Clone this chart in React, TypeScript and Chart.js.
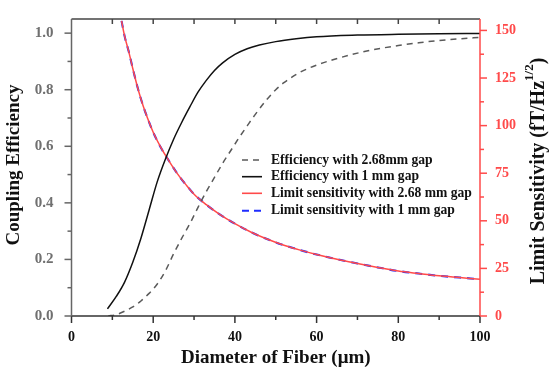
import React, { useEffect, useRef } from "react";
import { Chart, registerables } from "chart.js";

Chart.register(...registerables);

const effDashX = [9, 11, 13, 15, 17, 19, 21, 23, 25, 27, 29, 31, 33, 35, 37, 39, 41, 43, 45, 47.8, 50, 52, 56, 60, 64, 68, 72, 76, 80, 85, 90, 95, 100];
const effDashY = [0.0, 0.005, 0.017, 0.032, 0.053, 0.08, 0.113, 0.16, 0.22, 0.275, 0.327, 0.385, 0.44, 0.49, 0.54, 0.585, 0.63, 0.672, 0.713, 0.765, 0.8, 0.825, 0.862, 0.887, 0.906, 0.922, 0.936, 0.947, 0.956, 0.966, 0.974, 0.98, 0.985];

const effSolidX = [8.8, 11, 13, 15, 17, 19, 21, 23, 25, 27, 29, 31, 33, 35, 37, 40, 43, 46, 50, 55, 60, 70, 80, 90, 100];
const effSolidY = [0.025, 0.07, 0.12, 0.19, 0.275, 0.375, 0.475, 0.555, 0.625, 0.685, 0.74, 0.792, 0.833, 0.868, 0.895, 0.925, 0.945, 0.958, 0.97, 0.98, 0.987, 0.993, 0.996, 0.998, 0.999];

const sensX = [12.25, 13, 14, 15, 16, 17, 18, 20, 22, 24, 26, 28, 30, 33, 36, 40, 44, 48, 52, 56, 60, 65, 70, 75, 80, 85, 90, 95, 100];
const sensRed = [155, 147, 139, 130, 121.5, 114, 107.5, 96.5, 88, 81, 74.5, 69, 64, 58.5, 53.8, 48.5, 44, 40.3, 37.2, 34.6, 32.3, 29.8, 27.6, 25.5, 23.6, 22.3, 21.1, 20.2, 19.3];
const sensBlue = [155, 147, 139, 130, 121.5, 114, 107.5, 96.5, 88, 81, 74.5, 69, 64, 58.5, 53.8, 48.5, 44, 40.3, 37.2, 34.6, 32.3, 29.8, 27.6, 25.5, 23.6, 22.3, 21.1, 20.2, 19.3];

const legendLabels = [
  "Efficiency with 2.68mm gap",
  "Efficiency with 1 mm gap",
  "Limit sensitivity with 2.68 mm gap",
  "Limit sensitivity with 1 mm gap",
];

const xTicks = [0, 20, 40, 60, 80, 100];
const yTicks = [0, 0.2, 0.4, 0.6, 0.8, 1.0];
const y1Ticks = [0, 25, 50, 75, 100, 125, 150];

const FONT = "'Liberation Serif', 'DejaVu Serif', serif";
const RED = "#ff4a4a";
const BLUE = "#1f2dff";
const GRAY = "#5a5a5a";

const pts = (xs: number[], ys: number[]) => xs.map((x, i) => ({ x, y: ys[i] }));

const axesPlugin = {
  id: "customAxes",
  afterDraw(chart: any) {
    const { ctx, chartArea, scales } = chart;
    const { left, right, top, bottom } = chartArea;
    const x = scales.x, y = scales.y, y1 = scales.y1;
    ctx.save();
    ctx.lineWidth = 1.5;
    // top border
    ctx.strokeStyle = "#444";
    ctx.beginPath(); ctx.moveTo(left, top); ctx.lineTo(right, top); ctx.stroke();
    for (let v = 10; v < 100; v += 10) {
      const px = x.getPixelForValue(v);
      ctx.beginPath(); ctx.moveTo(px, top); ctx.lineTo(px, top + 5); ctx.stroke();
    }
    // bottom axis
    ctx.strokeStyle = "#333";
    ctx.beginPath(); ctx.moveTo(left, bottom); ctx.lineTo(right, bottom); ctx.stroke();
    for (let v = 0; v <= 100; v += 10) {
      const px = x.getPixelForValue(v);
      const len = v % 20 === 0 ? 7 : 4;
      ctx.beginPath(); ctx.moveTo(px, bottom); ctx.lineTo(px, bottom + len); ctx.stroke();
    }
    // left axis
    ctx.strokeStyle = "#666";
    ctx.beginPath(); ctx.moveTo(left, top); ctx.lineTo(left, bottom); ctx.stroke();
    for (let i = 0; i <= 10; i++) {
      const v = i / 10;
      const py = y.getPixelForValue(v);
      const len = i % 2 === 0 ? 7 : 4;
      ctx.beginPath(); ctx.moveTo(left, py); ctx.lineTo(left - len, py); ctx.stroke();
    }
    // right axis
    ctx.strokeStyle = RED;
    ctx.beginPath(); ctx.moveTo(right, top); ctx.lineTo(right, bottom); ctx.stroke();
    for (let i = 0; i <= 12; i++) {
      const v = i * 12.5;
      const py = y1.getPixelForValue(v);
      const len = i % 2 === 0 ? 7 : 4;
      ctx.beginPath(); ctx.moveTo(right, py); ctx.lineTo(right + len, py); ctx.stroke();
    }

    // titles
    ctx.fillStyle = "#111";
    ctx.font = `bold 19px ${FONT}`;
    ctx.textAlign = "center";
    ctx.textBaseline = "middle";
    ctx.fillText("Diameter of Fiber (\u03bcm)", (left + right) / 2, 358);

    ctx.save();
    ctx.translate(14, 165);
    ctx.rotate(-Math.PI / 2);
    ctx.fillText("Coupling Efficiency", 0, 0);
    ctx.restore();

    // right title with superscript
    ctx.save();
    ctx.translate(539, 171);
    ctx.rotate(-Math.PI / 2);
    const main = "Limit Sensitivity (fT/Hz";
    const sup = "1/2";
    const close = ")";
    ctx.font = `bold 20px ${FONT}`;
    const wMain = ctx.measureText(main).width;
    const wClose = ctx.measureText(close).width;
    ctx.font = `bold 13px ${FONT}`;
    const wSup = ctx.measureText(sup).width;
    const total = wMain + wSup + wClose;
    let cx = -total / 2;
    ctx.textAlign = "left";
    ctx.font = `bold 20px ${FONT}`;
    ctx.fillText(main, cx, 0);
    cx += wMain;
    ctx.font = `bold 13px ${FONT}`;
    ctx.fillText(sup, cx, -9);
    cx += wSup;
    ctx.font = `bold 20px ${FONT}`;
    ctx.fillText(close, cx, 0);
    ctx.restore();

    // legend
    const styles = [
      { color: GRAY, dash: [6, 5], w: 1.6 },
      { color: "#111", dash: [], w: 1.6 },
      { color: RED, dash: [], w: 1.6 },
      { color: BLUE, dash: [7, 5], w: 2 },
    ];
    const rows = [160, 176.7, 193.3, 210.7];
    ctx.font = `bold 13.6px ${FONT}`;
    ctx.textAlign = "left";
    ctx.textBaseline = "middle";
    legendLabels.forEach((lab, i) => {
      const st = styles[i];
      ctx.strokeStyle = st.color;
      ctx.lineWidth = st.w;
      ctx.setLineDash(st.dash);
      ctx.beginPath(); ctx.moveTo(242, rows[i]); ctx.lineTo(262, rows[i]); ctx.stroke();
      ctx.setLineDash([]);
      ctx.fillStyle = "#111";
      ctx.fillText(lab, 271, rows[i]);
    });
    ctx.restore();
  },
};

export default function App() {
  const ref = useRef<HTMLCanvasElement | null>(null);
  useEffect(() => {
    document.body.style.margin = "0";
    const canvas = ref.current!;
    const chart = new Chart(canvas, {
      type: "line",
      data: {
        datasets: [
          {
            label: legendLabels[0],
            data: pts(effDashX, effDashY),
            borderColor: GRAY,
            borderDash: [6, 5],
            borderWidth: 1.5,
            pointRadius: 0,
            cubicInterpolationMode: "monotone",
            yAxisID: "y",
          },
          {
            label: legendLabels[1],
            data: pts(effSolidX, effSolidY),
            borderColor: "#111",
            borderWidth: 1.5,
            pointRadius: 0,
            cubicInterpolationMode: "monotone",
            yAxisID: "y",
          },
          {
            label: legendLabels[2],
            data: pts(sensX, sensRed),
            borderColor: RED,
            borderWidth: 1.5,
            pointRadius: 0,
            cubicInterpolationMode: "monotone",
            yAxisID: "y1",
          },
          {
            label: legendLabels[3],
            data: pts(sensX, sensBlue),
            borderColor: BLUE,
            borderDash: [7, 6],
            borderWidth: 2.1,
            pointRadius: 0,
            cubicInterpolationMode: "monotone",
            yAxisID: "y1",
          },
        ],
      },
      options: {
        responsive: false,
        animation: false,
        layout: { padding: { top: 5, left: 0, right: 0, bottom: 0 } },
        plugins: { legend: { display: false }, tooltip: { enabled: false } },
        scales: {
          x: {
            type: "linear",
            min: 0,
            max: 100,
            grid: { display: false },
            border: { display: false },
            afterBuildTicks: (s: any) => { s.ticks = xTicks.map((v) => ({ value: v })); },
            afterFit: (s: any) => { s.height = 59; },
            ticks: {
              padding: 5,
              color: "#111",
              font: { family: FONT, size: 14, weight: "bold" },
            },
          },
          y: {
            type: "linear",
            position: "left",
            min: 0,
            max: 1.05,
            grid: { display: false },
            border: { display: false },
            afterBuildTicks: (s: any) => { s.ticks = yTicks.map((v) => ({ value: v })); },
            afterFit: (s: any) => { s.width = 71.5; },
            ticks: {
              padding: 10,
              color: "#707070",
              callback: (v: any) => Number(v).toFixed(1),
              font: { family: FONT, size: 15, weight: "bold" },
            },
          },
          y1: {
            type: "linear",
            position: "right",
            min: 0,
            max: 156,
            grid: { display: false },
            border: { display: false },
            afterBuildTicks: (s: any) => { s.ticks = y1Ticks.map((v) => ({ value: v })); },
            afterFit: (s: any) => { s.width = 70; },
            ticks: {
              padding: 7,
              color: RED,
              font: { family: FONT, size: 14, weight: "bold" },
            },
          },
        },
      },
      plugins: [axesPlugin],
    } as any);
    return () => chart.destroy();
  }, []);
  return (
    <div style={{ width: 550, height: 375, background: "#fff" }}>
      <canvas ref={ref} width={550} height={375} />
    </div>
  );
}
